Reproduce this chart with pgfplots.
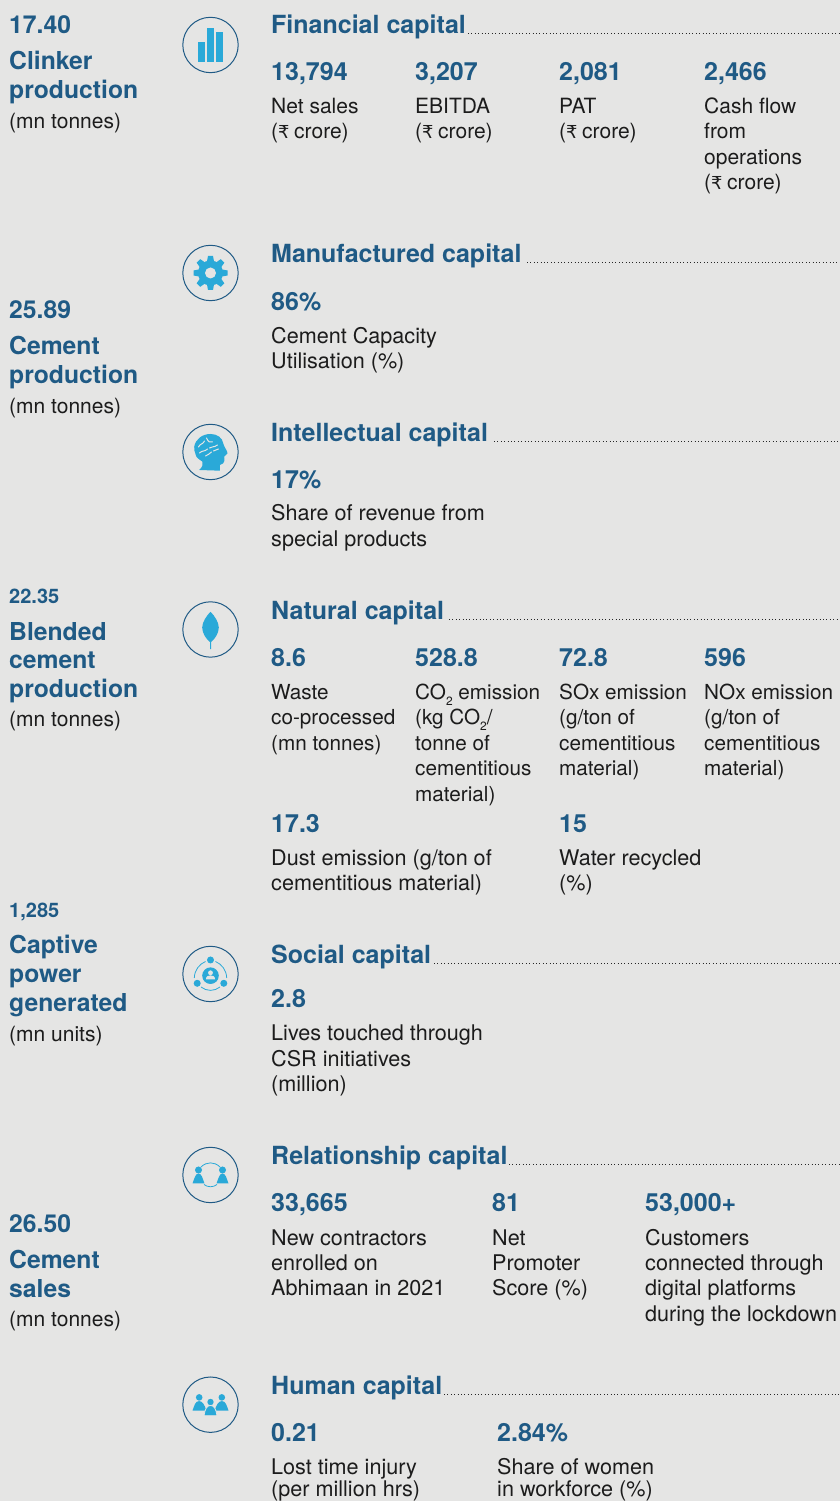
\documentclass[border=0pt]{standalone}
\usepackage{pgfplots}
\pgfplotsset{compat=1.18}
\usepackage{fontspec}
\setmainfont{TeX Gyre Heros}
\newfontfamily\rsfont[Scale=0.85]{DejaVu Sans}
\definecolor{bg}{HTML}{E5E5E4}
\definecolor{hd}{HTML}{1F5A85}
\definecolor{tx}{HTML}{1C1C1C}
\definecolor{ic}{HTML}{2AA9D8}
\newcommand{\fb}{\fontsize{25}{29}\selectfont\bfseries\color{hd}}
\newcommand{\fs}{\fontsize{20}{25}\selectfont\bfseries\color{hd}}
\newcommand{\B}[3]{\node[anchor=base west,inner sep=0pt] at (axis cs:#1,1500-#2) {\fb #3};}
\newcommand{\Bl}[3]{\node[anchor=base west,inner sep=0pt] at (axis cs:#1,1500-#2) {\fontsize{24.7}{29}\selectfont\bfseries\color{hd} #3};}
\newcommand{\Bs}[3]{\node[anchor=base west,inner sep=0pt] at (axis cs:#1,1500-#2) {\fs #3};}
\newcommand{\N}[3]{\node[anchor=base west,inner sep=0pt] at (axis cs:#1,1500-#2) {\fontsize{21.6}{25.6}\selectfont\color{tx} #3};}
\newcommand{\Nm}[3]{\node[anchor=base west,inner sep=0pt] at (axis cs:#1,1500-#2) {\fontsize{21}{25.6}\selectfont\color{tx} #3};}
\newcommand{\Nt}[3]{\node[anchor=base west,inner sep=0pt] at (axis cs:#1,1500-#2) {\fontsize{20.7}{25.6}\selectfont\color{tx} #3};}
\newcommand{\Rs}{{\rsfont ₹}\kern-1.2pt}
\newcommand{\two}{\raisebox{-0.25em}{\fontsize{12}{12}\selectfont 2}}
\newcommand{\Dots}[2]{\draw[black!85,line width=0.8pt,dash pattern=on 0.8pt off 2.6pt] (axis cs:#1,1501-#2) -- (axis cs:840,1501-#2);}
\begin{document}
\begin{tikzpicture}
\path[use as bounding box] (0,0) rectangle (840pt,1501pt);
\clip (0,0) rectangle (840pt,1501pt);
\begin{axis}[at={(0,0)},anchor=south west,width=840pt,height=1501pt,scale only axis,xmin=0,xmax=840,ymin=0,ymax=1501,hide axis,clip=false]
\fill[bg] (axis cs:0,0) rectangle (axis cs:840,1501);
% left column
\Bl{9}{33}{17.40}
\Bl{9}{69}{Clinker}
\Bl{9}{98}{production}
\Nm{9}{128}{(mn tonnes)}
\Bl{9}{318}{25.89}
\Bl{9}{354}{Cement}
\Bl{9}{383}{production}
\Nm{9}{413}{(mn tonnes)}
\Bs{9}{603}{22.35}
\Bl{9}{640}{Blended}
\Bl{9}{668}{cement}
\Bl{9}{697}{production}
\Nm{9}{726}{(mn tonnes)}
\Bs{9}{917}{1,285}
\Bl{9}{953}{Captive}
\Bl{9}{982}{power}
\Bl{9}{1011}{generated}
\Nm{9}{1041}{(mn units)}
\Bl{9}{1232}{26.50}
\Bl{9}{1268}{Cement}
\Bl{9}{1297}{sales}
\Nm{9}{1326}{(mn tonnes)}
% financial
\B{271}{33}{Financial capital}\Dots{468}{33}
\B{271}{80}{13,794}
\B{415}{80}{3,207}
\B{559}{80}{2,081}
\B{704}{80}{2,466}
\Nm{271}{113}{Net sales}
\Nm{271}{138}{(\Rs{} crore)}
\Nm{415}{113}{EBITDA}
\Nm{415}{138}{(\Rs{} crore)}
\Nm{559}{113}{PAT}
\Nm{559}{138}{(\Rs{} crore)}
\Nm{704}{113}{Cash flow}
\Nm{704}{138}{from}
\Nm{704}{164}{operations}
\Nm{704}{189}{(\Rs{} crore)}
% manufactured
\B{271}{262}{Manufactured capital}\Dots{527}{262}
\B{271}{310}{86\%}
\N{271}{343}{Cement Capacity}
\N{271}{368}{Utilisation (\%)}
% intellectual
\B{271}{441}{Intellectual capital}\Dots{494}{441}
\B{271}{488}{17\%}
\N{271}{520}{Share of revenue from}
\N{271}{546}{special products}
% natural
\B{271}{619}{Natural capital}\Dots{449}{619}
\B{271}{666}{8.6}
\B{415}{666}{528.8}
\B{559}{666}{72.8}
\B{704}{666}{596}
\Nt{271}{699}{Waste}
\Nt{271}{724}{co-processed}
\Nt{271}{750}{(mn tonnes)}
\Nt{415}{699}{CO\two{} emission}
\Nt{415}{724}{(kg CO\two/}
\Nt{415}{750}{tonne of}
\Nt{415}{775}{cementitious}
\Nt{415}{801}{material)}
\Nt{559}{699}{SOx emission}
\Nt{559}{724}{(g/ton of}
\Nt{559}{750}{cementitious}
\Nt{559}{775}{material)}
\Nt{704}{699}{NOx emission}
\Nt{704}{724}{(g/ton of}
\Nt{704}{750}{cementitious}
\Nt{704}{775}{material)}
\B{271}{832}{17.3}
\B{559}{832}{15}
\N{271}{865}{Dust emission (g/ton of}
\N{271}{890}{cementitious material)}
\N{559}{865}{Water recycled}
\N{559}{890}{(\%)}
% social
\B{271}{963}{Social capital}\Dots{434}{963}
\B{271}{1007}{2.8}
\N{271}{1040}{Lives touched through}
\N{271}{1066}{CSR initiatives}
\N{271}{1091}{(million)}
% relationship
\B{271}{1164}{Relationship capital}\Dots{509}{1164}
\B{271}{1211}{33,665}
\B{492}{1211}{81}
\B{645}{1211}{53,000+}
\N{271}{1245}{New contractors}
\N{271}{1270}{enrolled on}
\N{271}{1295}{Abhimaan in 2021}
\N{492}{1245}{Net}
\N{492}{1270}{Promoter}
\N{492}{1295}{Score (\%)}
\N{645}{1245}{Customers}
\N{645}{1270}{connected through}
\N{645}{1295}{digital platforms}
\N{645}{1321}{during the lockdown}
% human
\B{271}{1394}{Human capital}\Dots{444}{1394}
\B{271}{1441}{0.21}
\B{497}{1441}{2.84\%}
\N{271}{1474}{Lost time injury}
\N{271}{1495}{(per million hrs)}
\N{497}{1474}{Share of women}
\N{497}{1495}{in workforce (\%)}
\end{axis}
% icons (local units are pixels, y downwards)
\tikzset{ring/.style={draw=hd,line width=1pt}}
\begin{scope}[x=1pt,y=-1pt,shift={(210.5pt,1456pt)}]
\draw[ring] (0,0) circle (27.7pt);
\fill[ic] (-12.5,17) rectangle (-5.5,-3);
\fill[ic] (-3.5,17) rectangle (3.5,-17);
\fill[ic] (5.5,17) rectangle (12.5,-13);
\end{scope}
\begin{scope}[x=1pt,y=-1pt,shift={(210.5pt,1228pt)}]
\draw[ring] (0,0) circle (27.7pt);
\fill[ic] (0,0) circle (12.5pt);
\foreach \a in {0,45,...,315}{\fill[ic,rotate=\a] (-2.5,-17) -- (2.5,-17) -- (4,-9) -- (-4,-9) -- cycle;}
\fill[bg] (0,0) circle (5.5pt);
\end{scope}
\begin{scope}[x=1pt,y=-1pt,shift={(210.5pt,1049pt)}]
\draw[ring] (0,0) circle (27.7pt);
\fill[ic] (-16.3,-5.3) .. controls (-15,-13) and (-8,-18) .. (0,-18)
 .. controls (7,-18) and (12,-14) .. (12.7,-8.7) .. controls (13.5,-5) and (17,-1) .. (17,1.3)
 -- (13.7,4.7) .. controls (14,8) and (14,11) .. (12.7,11.3) -- (9.3,13) -- (9.3,18.7) -- (-11.3,18)
 .. controls (-8,15) and (-7,12) .. (-8,9.7) .. controls (-12,7) and (-14.7,5) .. (-14.7,3) .. controls (-16,0) and (-16.5,-3) .. (-16.3,-5.3) -- cycle;
\draw[bg,line width=1pt,line cap=round] (-12,-5) .. controls (-10,-9) and (-8,-7) .. (-6,-11)
 (-4,-14) .. controls (-2,-10) and (-1,-9) .. (2,-10)
 (-11,1) .. controls (-8,-2) and (-6,0) .. (-3,-3)
 (-1,-4) .. controls (1,-6) and (3,-4) .. (7,-7)
 (-5,4) .. controls (-3,3) and (-1,2) .. (1,0)
 (3,-1) -- (8,-3);
\end{scope}
\begin{scope}[x=1pt,y=-1pt,shift={(210.5pt,871.5pt)}]
\draw[ring] (0,0) circle (27.7pt);
\fill[ic] (0,-17.7) .. controls (4,-14) and (8.3,-7) .. (8.3,-2) .. controls (8.3,4) and (4,10) .. (0.5,12.5) -- (0.5,19.7) -- (-0.5,19.7) -- (-0.5,12.5) .. controls (-4,10) and (-8.3,4) .. (-8.3,-2) .. controls (-8.3,-7) and (-4,-14) .. (0,-17.7) -- cycle;
\end{scope}
\begin{scope}[x=1pt,y=-1pt,shift={(210.5pt,527pt)}]
\draw[ring] (0,0) circle (27.7pt);
\fill[ic] (0,1.7) circle (8.3pt);
\fill[ic] (0,-14) circle (3.5pt) (-13.3,9.3) circle (3.5pt) (13.3,9.3) circle (3.5pt);
\draw[ic,line width=0.8pt] (5,-12.5) .. controls (11,-10) and (16,-4) .. (16.2,4);
\draw[ic,line width=0.8pt] (-5,-12.5) .. controls (-11,-10) and (-16,-4) .. (-16.2,4);
\draw[ic,line width=0.8pt] (-9.5,13) .. controls (-4,17.5) and (4,17.5) .. (9.5,13);
\fill[bg] (0,-1.2) circle (2.4pt);
\fill[bg] (-4.6,5.4) .. controls (-4.5,2) and (-2,1.4) .. (0,1.4) .. controls (2,1.4) and (4.5,2) .. (4.6,5.4) -- cycle;
\end{scope}
\begin{scope}[x=1pt,y=-1pt,shift={(210.5pt,326pt)}]
\draw[ring] (0,0) circle (27.7pt);
\fill[ic] (-12,-5) circle (3.5pt) (12,-5) circle (3.5pt);
\fill[ic] (-18,8.5) .. controls (-16,3) and (-15,-1.5) .. (-12,-1.5) .. controls (-9,-1.5) and (-8,3) .. (-6,8.5) -- cycle;
\fill[ic] (18,8.5) .. controls (16,3) and (15,-1.5) .. (12,-1.5) .. controls (9,-1.5) and (8,3) .. (6,8.5) -- cycle;
\draw[ic,line width=0.8pt] (-9.5,-8) .. controls (-4,-13.5) and (4,-13.5) .. (9.5,-8);
\draw[ic,line width=0.8pt] (-6.5,9.5) .. controls (-3,12.5) and (3,12.5) .. (6.5,9.5);
\end{scope}
\begin{scope}[x=1pt,y=-1pt,shift={(210.5pt,96.3pt)}]
\draw[ring] (0,0) circle (27.7pt);
\fill[ic] (-11.3,-7.3) circle (3.3pt) (11.3,-7.3) circle (3.3pt);
\fill[ic] (-18,6) .. controls (-16,0) and (-15,-3.6) .. (-11.3,-3.6) .. controls (-8,-3.6) and (-6,0) .. (-4,6) -- cycle;
\fill[ic] (18,6) .. controls (16,0) and (15,-3.6) .. (11.3,-3.6) .. controls (8,-3.6) and (6,0) .. (4,6) -- cycle;
\fill[bg] (0,-2.7) circle (4pt);
\fill[ic] (0,-2.7) circle (3.2pt);
\filldraw[ic,draw=bg,line width=0.8pt] (-6.5,11) .. controls (-5.5,4) and (-3.5,0.8) .. (0,0.8) .. controls (3.5,0.8) and (5.5,4) .. (6.5,11) -- cycle;
\end{scope}
\end{tikzpicture}
\end{document}
